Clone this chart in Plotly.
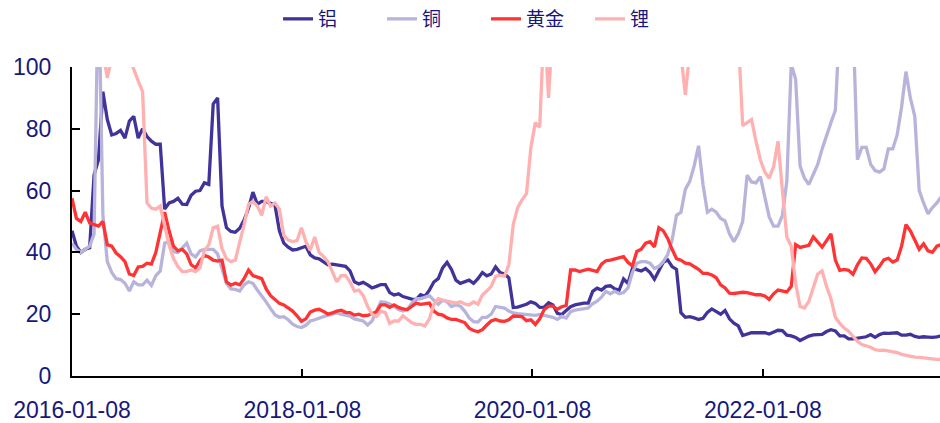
import pandas as pd
import plotly.graph_objects as go

# semanas (passo de 14 dias) a partir de 2016-01-08
start_date = "2016-01-08"
n_points = 198

# valores (acima de 100 = fora da escala)
aluminio = [
    47, 42, 40, 41, 41.5, 65, 70, 92, 83, 78,
    78.5, 79.5, 77, 82.5, 84, 77, 80, 77.5, 76, 75,
    75, 54, 56, 56.5, 57.5, 55.6, 55.5, 58.5, 59.8, 60,
    62.5, 62, 88, 90, 55, 48, 46.8, 46.5, 47.8, 50.5,
    54.3, 59.5, 55.6, 56.5, 56.5, 56, 55.3, 47, 43, 41.7,
    40.8, 41, 41.6, 42, 39.2, 38.2, 37.9, 37, 36, 36.2,
    36, 35.9, 35.5, 34, 30.5, 29.8, 30.3, 29.5, 28.5, 29,
    29.6, 29.6, 27, 26.2, 26.6, 25.7, 25.3, 24.9, 24.8, 26.3,
    25.8, 27.8, 30.4, 31.5, 35, 36.8, 34.5, 31, 30, 30.5,
    31, 30, 31.5, 33.5, 32.4, 33, 35.3, 33.5, 33, 31.8,
    22.2, 22.3, 22.7, 23.2, 24, 23.5, 22.2, 22.3, 23.7, 23,
    20.3, 19.9, 21.2, 22.4, 23, 23.3, 23.6, 23.6, 27.4, 28.4,
    27.8, 29, 29.2, 28.2, 27.8, 31.4, 30, 34.8, 34.4, 34,
    34.8, 33.5, 31.3, 33.8, 36.8, 37.6, 35.4, 34.5, 20.5, 19,
    19.2, 18.8, 18.3, 18.7, 20.6, 21.7, 20.9, 20, 21.2, 18.5,
    17.1, 16.2, 13.1, 13.5, 14, 14, 14, 14, 13.6, 14.2,
    14.8, 14.7, 13.2, 13, 12.5, 11.5, 12.3, 12.9, 13.3, 13.5,
    13.5, 14.4, 15, 14.6, 13, 13, 12, 12, 12.3, 12.5,
    12.7, 13.4, 12.5, 13.4, 13.9, 13.8, 13.9, 14, 13.2, 13.2,
    13.5, 12.8, 12.5, 12.7, 12.6, 12.5, 12.7, 13,
]

cobre = [
    43, 41, 40, 41, 42, 46, 130, 52, 37, 33.5,
    31.5, 31.2, 30, 27.5, 30.5, 29.5, 29.5, 31, 29.3, 32.5,
    34, 43, 43.5, 40.2, 40, 41.5, 43, 39.5, 38.5, 40.5,
    41, 41, 41, 39.5, 35, 30, 28.2, 28, 27.5, 29.5,
    30.5, 30, 27.8, 26, 24, 21.8, 19.8, 19, 19.2, 18.2,
    16.8, 16, 15.7, 16.4, 17.8, 18.2, 18.8, 19.2, 19.6, 20,
    20.4, 20, 19.8, 19.4, 18.5, 18.2, 17.8, 16.5, 17.8, 21,
    24, 23.8, 23.3, 22.5, 21.5, 21, 21.5, 23.5, 25, 25,
    25.5, 26, 24.5, 23.2, 24.5, 24, 22.5, 23, 22.6, 21,
    18.8, 17.6, 17.5, 19, 19, 20, 22.5, 22.2, 22, 21,
    20.4, 20.2, 20, 19.9, 19.7, 19.6, 19.9, 19.6, 19.4, 19,
    18.3, 19.3, 18.8, 20.8, 21.3, 21.5, 21.6, 22, 23.4, 24.2,
    25.5, 27.4, 26.6, 27.4, 26.6, 27, 28.5, 33.5, 36.5, 37,
    37, 36.5, 34.8, 35.5, 37, 39.3, 44, 52, 53, 60.4,
    63, 68, 74.5, 62, 53, 54, 53, 51, 50.2, 46,
    43.5, 46, 50, 65, 62.8, 62.5, 64.5, 58.5, 51.5, 48.5,
    48.5, 52, 63, 101, 96, 68, 64, 62, 65, 68.5,
    73.5, 78, 82, 86, 115, 125, 125, 115, 70, 74,
    74, 68.5, 66.5, 66, 67, 73.5, 73.5, 78, 87, 98.5,
    90, 84, 60, 56, 52.5, 54.5, 56, 58,
]

ouro = [
    57.5, 51, 50, 53, 49.5, 49, 48.5, 50, 42.5, 42,
    39.8, 38.6, 37, 33, 32.5, 35.3, 35.5, 36.5, 36.2, 40,
    47, 53, 47, 42, 40.5, 41, 39.5, 36, 35, 37.3,
    39, 38.5, 37.5, 37.2, 37.5, 30.5, 29.4, 30, 29.5, 31.5,
    34.3, 32.5, 32, 31.5, 28.2, 26, 24.8, 23.5, 23, 22,
    21, 19.5, 17.7, 18.5, 20.7, 21.3, 21.6, 20.9, 20, 20.4,
    21, 21.3, 20.6, 20.5, 19.7, 20, 19.5, 19.6, 20.2, 20.8,
    23, 23, 22.2, 23, 22.2, 21.7, 21.5, 22.6, 23.6, 23.2,
    23.4, 23.6, 21, 20, 19.7, 18.8, 18.3, 18.3, 17.8, 17.3,
    15.5, 14.7, 14.3, 15, 16.5, 17.8, 18.3, 17.8, 17.7, 18.2,
    19.4, 19.4, 19.2, 17.9, 18.2, 16.7, 18.5, 21.5, 22.6, 22.6,
    21.6, 22.4, 22.8, 34.3, 34.3, 33.8, 34.3, 34.6, 34.2, 33.8,
    36.2, 37.3, 37.5, 37.8, 38.3, 38.6, 36.8, 35.6, 40.3, 41,
    43, 43.5, 41.8, 48, 47, 44.5, 41, 38, 37.5, 36.5,
    36.3, 35.5, 34.5, 33.2, 33.2, 32.7, 31.8, 29.5, 28.5, 26.8,
    26.7, 26.9, 27.1, 27, 26.6, 26.3, 26.3, 25.9, 24.8, 26.6,
    27.8, 27.4, 27.2, 29, 42.5, 41.6, 42, 42.3, 45, 43.5,
    41.7, 43.8, 46, 37.5, 34.2, 34.5, 34.2, 32.9, 36, 38.2,
    38.1, 36.3, 33.7, 35.5, 37.6, 38.1, 36.9, 37.5, 42, 49,
    47, 44, 41, 42.8, 40.5, 40, 42, 42.5,
]

litio = [
    125, 125, 125, 125, 125, 125, 125, 105, 96.5, 103,
    100.5, 103, 100.5, 103, 99, 95.5, 92, 56, 54.3, 54,
    55, 48, 42.3, 38, 35.4, 33.8, 33.8, 34.3, 33.8, 35,
    40.5, 42.5, 48, 48.5, 41.2, 38, 37, 37.5, 43, 49,
    55.5, 56.5, 55, 52, 58, 55, 56, 54, 45.5, 44,
    43.5, 43.8, 48, 43.5, 40.7, 45, 40, 38.7, 37, 33.5,
    30.5, 32.5, 32.5, 30.5, 27.5, 27.8, 26, 22.5, 20, 19.3,
    21, 20.5, 17, 17.8, 17.8, 19.5, 18.5, 17.2, 16.7, 16.7,
    16.2, 18.5, 23.1, 25, 24.6, 24.2, 23.9, 23.6, 24, 23.3,
    23, 24, 23.2, 26.2, 27.5, 29, 32.2, 32.6, 32.3, 36,
    49, 54.5, 57, 59, 74, 82, 80.5, 115, 90, 115,
    120, 125, 130, 130, 130, 130, 130, 130, 130, 130,
    130, 130, 130, 130, 130, 130, 125, 120, 115, 115,
    115, 115, 115, 115, 112, 110, 108, 106, 104, 91,
    105, 108, 110, 115, 120, 125, 125, 125, 120, 115,
    110, 110, 81, 82, 83, 76, 70, 66, 64, 67.8,
    76, 60, 45, 42, 30, 22.5, 22, 24.2, 29, 33,
    34, 29, 25, 19, 17, 15.5, 14.5, 12.8, 11.2, 10.2,
    9.8, 9.3, 8.5, 8.3, 8.4, 8.2, 7.9, 7.6, 7, 6.7,
    6.3, 6.1, 6, 5.8, 5.6, 5.5, 5.4, 5.4,
]

tick_dates = ["2016-01-08", "2018-01-08", "2020-01-08", "2022-01-08"]

datas = pd.date_range(start_date, periods=n_points, freq="14D")

series = [
    ("铝", aluminio, "#40349A"),
    ("铜", cobre, "#B8B3DA"),
    ("黄金", ouro, "#FF3333"),
    ("锂", litio, "#FFB1B1"),
]

cor_texto = "#17177C"

fig = go.Figure()
for nome, valores, cor in series:
    fig.add_trace(go.Scatter(
        x=datas,
        y=valores,
        name=nome,
        mode="lines",
        line=dict(color=cor, width=3.3)
    ))

fig.update_layout(
    width=940,
    height=423,
    margin=dict(l=72, r=0, t=66, b=44),
    plot_bgcolor="white",
    paper_bgcolor="white",
    font=dict(family="Liberation Sans, Arial, sans-serif", color=cor_texto),
    legend=dict(
        orientation="h",
        x=0.477,
        xanchor="center",
        y=1.157,
        yanchor="middle",
        font=dict(family="Noto Sans CJK SC", size=19, color=cor_texto),
        entrywidth=59,
        entrywidthmode="pixels",
        bgcolor="rgba(0,0,0,0)"
    ),
    showlegend=True
)

fig.update_xaxes(
    type="date",
    range=["2016-01-08", "2023-07-24"],
    tickvals=tick_dates,
    ticktext=tick_dates,
    ticks="inside",
    ticklen=7,
    tickwidth=2,
    tickcolor="black",
    showline=True,
    linecolor="black",
    linewidth=2,
    showgrid=False,
    zeroline=False,
    tickfont=dict(size=23, color=cor_texto),
    ticklabelstandoff=12
)

fig.update_yaxes(
    range=[0, 100],
    tickvals=[0, 20, 40, 60, 80, 100],
    ticks="inside",
    ticklen=8,
    tickwidth=2,
    tickcolor="black",
    showline=True,
    linecolor="black",
    linewidth=2,
    showgrid=False,
    zeroline=False,
    tickfont=dict(size=23, color=cor_texto),
    ticklabelstandoff=14
)

# sem margem do body e sem barra de ferramentas
fig.write_html(
    "out.html",
    config={"displayModeBar": False},
    post_script="document.body.style.margin='0';"
)
